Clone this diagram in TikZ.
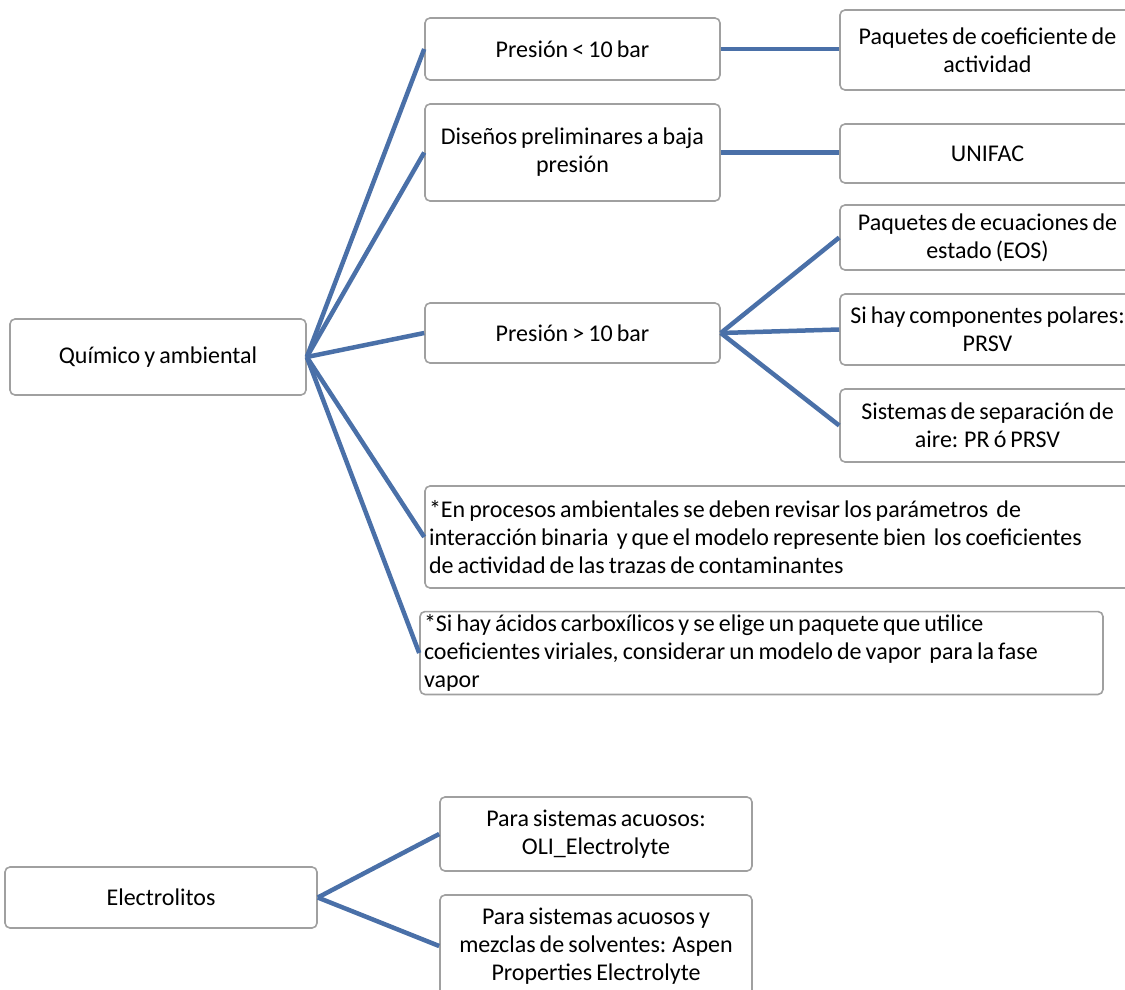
\documentclass[tikz,border=0pt]{standalone}
\usepackage{fontspec}
\setmainfont{Carlito}[WordSpace=0.75]
\definecolor{linkblue}{RGB}{74,112,168}
\definecolor{boxgray}{RGB}{160,160,160}
\begin{document}
\begin{tikzpicture}[x=1pt,y=-1pt,
  box/.style={draw=boxgray, line width=1.6pt, rounded corners=5pt, fill=white,
    align=center, inner sep=3pt, font=\fontsize{24}{28}\selectfont},
  link/.style={draw=linkblue, line width=4.5pt}]
\useasboundingbox (0,0) rectangle (1125,990);
\clip (0,0) rectangle (1125,990);

% main nodes
\node[box, minimum width=296pt, minimum height=76pt] (q) at (158,357) {Químico y ambiental};
\node[box, minimum width=295pt, minimum height=62pt] (p1) at (572.5,49) {Presión < 10 bar};
\node[box, minimum width=295pt, minimum height=97pt] (d) at (572.5,152.5) {Diseños preliminares a baja\\presión};
\node[box, minimum width=295pt, minimum height=60pt] (p2) at (572.5,333) {Presión > 10 bar};

\node[box, minimum width=295pt, minimum height=80pt] (pc) at (987.5,50) {Paquetes de coeficiente de\\actividad};
\node[box, minimum width=295pt, minimum height=59pt] (u) at (987.5,153.5) {UNIFAC};
\node[box, minimum width=295pt, minimum height=65pt] (eos) at (987.5,237.5) {Paquetes de ecuaciones de\\estado (EOS)};
\node[box, minimum width=295pt, minimum height=71pt] (pol) at (987.5,329.5) {Si hay componentes polares:\\PRSV};
\node[box, minimum width=295pt, minimum height=73pt] (sep) at (987.5,425.5) {Sistemas de separación de\\aire: PR ó PRSV};

\node[box, align=flush left, text width=702pt, inner xsep=4pt, minimum height=102pt] (en) at (780,537)
  {*En procesos ambientales se deben revisar los parámetros\ \ de\\interacción binaria\ \ y que el modelo represente bien\ \ los coeficientes\\de actividad de las trazas de contaminantes};
\node[box, align=flush left, text width=675pt, inner xsep=4pt, minimum height=80pt] (ac) at (761.5,653)
  {*Si hay ácidos carboxílicos y se elige un paquete que utilice\\coeficientes viriales, considerar un modelo de vapor\ \ para la fase\\vapor};

\node[box, minimum width=312pt, minimum height=61pt] (el) at (161,897.5) {Electrolitos};
\node[box, minimum width=312pt, minimum height=74pt] (a1) at (596,834) {Para sistemas acuosos:\\OLI\_Electrolyte};
\node[box, minimum width=312pt, minimum height=102pt] (a2) at (596,946) {Para sistemas acuosos y\\mezclas de solventes: Aspen\\Properties Electrolyte};

% connectors
\draw[link] (q.east) -- (p1.west);
\draw[link] (q.east) -- (d.west);
\draw[link] (q.east) -- (p2.west);
\draw[link] (q.east) -- (en.west);
\draw[link] (q.east) -- (ac.west);
\draw[link] (p1.east) -- (p1.east -| pc.west);
\draw[link] (d.east) -- (d.east -| u.west);
\draw[link] (p2.east) -- (eos.west);
\draw[link] (p2.east) -- (pol.west);
\draw[link] (p2.east) -- (sep.west);
\draw[link] (el.east) -- (a1.west);
\draw[link] (el.east) -- (a2.west);
\end{tikzpicture}
\end{document}
